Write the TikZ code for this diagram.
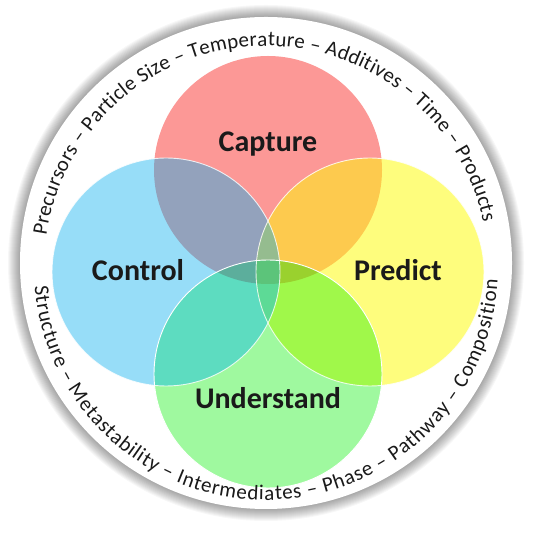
\documentclass[tikz,border=0pt]{standalone}
\usepackage{fontspec}
\setmainfont{Carlito}
\usetikzlibrary{decorations.text}
\definecolor{capC}{HTML}{FC9896}
\definecolor{conC}{HTML}{97DDF8}
\definecolor{preC}{HTML}{FEFD7D}
\definecolor{undC}{HTML}{9FF99F}
\definecolor{capcon}{HTML}{93A2BC}
\definecolor{cappre}{HTML}{FDCA4E}
\definecolor{conund}{HTML}{5DDCC0}
\definecolor{preund}{HTML}{A0F84A}
\definecolor{capconpre}{HTML}{95BC8F}
\definecolor{capconund}{HTML}{5CAE9C}
\definecolor{cappreund}{HTML}{9AD12E}
\definecolor{conpreund}{HTML}{5DDA96}
\definecolor{allfour}{HTML}{5CC47A}
\definecolor{ink}{HTML}{1A1A1A}
\newcommand\arcfont{\fontsize{21}{22}\selectfont}
\begin{document}
\begin{tikzpicture}[x=1pt,y=1pt,
  vlabel/.style={font=\fontsize{30}{32}\selectfont\bfseries, text=ink, anchor=base, inner sep=0pt},
  vr/.style={radius=114pt},
  outline/.style={draw=white, line width=0.9pt}]
\fill[white] (0,0) rectangle (534,534);
\useasboundingbox (0,0) rectangle (534,534);
\coordinate (ring) at (266,271);
\coordinate (txt) at (266,266);
\foreach \i in {1,...,12}{
  \pgfmathsetmacro{\rr}{246+\i}
  \fill[black,opacity=0.03] (ring) circle[radius=\rr pt];
}
\fill[white] (ring) circle[radius=246pt];
% Venn centres
\coordinate (cap) at (268,364);
\coordinate (con) at (166,262);
\coordinate (pre) at (370,262);
\coordinate (und) at (268,160);
% single circles
\fill[capC] (cap) circle[vr];
\fill[conC] (con) circle[vr];
\fill[preC] (pre) circle[vr];
\fill[undC] (und) circle[vr];
% pairs
\begin{scope}\clip (cap) circle[vr]; \fill[capcon] (con) circle[vr];\end{scope}
\begin{scope}\clip (cap) circle[vr]; \fill[cappre] (pre) circle[vr];\end{scope}
\begin{scope}\clip (und) circle[vr]; \fill[conund] (con) circle[vr];\end{scope}
\begin{scope}\clip (und) circle[vr]; \fill[preund] (pre) circle[vr];\end{scope}
% triples
\begin{scope}\clip (cap) circle[vr]; \clip (con) circle[vr]; \fill[capconpre] (pre) circle[vr];\end{scope}
\begin{scope}\clip (cap) circle[vr]; \clip (con) circle[vr]; \fill[capconund] (und) circle[vr];\end{scope}
\begin{scope}\clip (cap) circle[vr]; \clip (pre) circle[vr]; \fill[cappreund] (und) circle[vr];\end{scope}
\begin{scope}\clip (con) circle[vr]; \clip (pre) circle[vr]; \fill[conpreund] (und) circle[vr];\end{scope}
% all four
\begin{scope}\clip (cap) circle[vr]; \clip (con) circle[vr]; \clip (pre) circle[vr]; \fill[allfour] (und) circle[vr];\end{scope}
% white outlines
\draw[outline, opacity=0.8] (con) circle[vr];
\draw[outline, opacity=0.8] (pre) circle[vr];
\draw[outline] (und) circle[vr];
% labels
\node[vlabel] (lcap) at (268,382) {Capture};
\node[vlabel] (lcon) at (138,253) {Control};
\node[vlabel] (lpre) at (398,253) {Predict};
\node[vlabel] (lund) at (268,125) {Understand};
% arc texts
\path[decorate, decoration={text along path, text align={fit to path},
  text={|\arcfont\color{ink}|Precursors – Particle Size – Temperature – Additives – Time – Products}}]
  (txt) ++(171.7:222pt) arc[start angle=171.7, end angle=12, radius=222pt];
\path[decorate, decoration={text along path, text align={fit to path},
  text={|\arcfont\color{ink}|Structure – Metastability – Intermediates – Phase – Pathway – Composition}}]
  (txt) ++(184.5:232pt) arc[start angle=184.5, end angle=357, radius=232pt];
\end{tikzpicture}
\end{document}
